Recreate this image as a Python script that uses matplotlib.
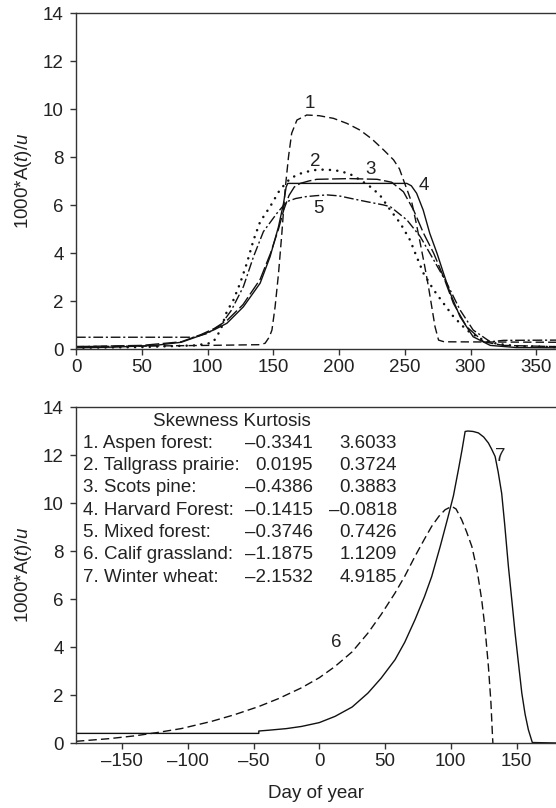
import matplotlib
matplotlib.use("Agg")
import matplotlib.pyplot as plt
from matplotlib.ticker import FuncFormatter

plt.rcParams['font.family'] = ['Liberation Sans', 'DejaVu Sans']
plt.rcParams['mathtext.fontset'] = 'custom'
plt.rcParams['mathtext.rm'] = 'Liberation Sans'
plt.rcParams['mathtext.it'] = 'Liberation Sans:italic'
plt.rcParams['axes.unicode_minus'] = False

# ---------------- data: top panel (day of year 0-365) ----------------
c1_day = [0, 50, 100, 140, 143.8, 147, 149, 151.4, 154, 156.5, 159, 161.6, 164, 168, 175.5, 185, 195.8, 206, 216, 225, 234, 241.5, 246, 249, 252, 255.5, 258.5, 261.8, 265, 268, 271, 273, 275.7, 280, 365]
c1_val = [0.1, 0.12, 0.15, 0.18, 0.24, 0.5, 0.79, 1.76, 3.15, 4.8, 6.63, 8.01, 8.99, 9.54, 9.75, 9.72, 9.61, 9.4, 9.12, 8.75, 8.29, 7.88, 7.5, 7.04, 6.6, 6.07, 5.3, 4.4, 3.5, 2.6, 1.6, 0.93, 0.37, 0.3, 0.28]

c2_day = [0, 50, 90, 100, 104.5, 110, 114.7, 119.7, 124.8, 129.9, 135, 140, 147.6, 155, 163, 170, 180, 190, 200, 208, 216, 224, 231, 239, 246.6, 254, 259, 264.3, 272, 279.5, 287, 297, 307, 320, 335, 365]
c2_val = [0.05, 0.08, 0.15, 0.22, 0.3, 0.8, 1.56, 2.04, 2.74, 3.57, 4.54, 5.3, 5.93, 6.63, 7.11, 7.3, 7.45, 7.48, 7.42, 7.3, 7.05, 6.75, 6.42, 5.79, 5.24, 4.54, 3.85, 3.15, 2.46, 1.9, 1.35, 0.79, 0.44, 0.22, 0.12, 0.08]

c3_day = [0, 50, 80, 95, 105, 115, 127, 140, 148, 154, 158, 162, 166, 170.5, 177, 183, 208, 229, 240, 249, 256.7, 264.3, 272, 279.5, 287, 297, 310, 325, 365]
c3_val = [0.1, 0.15, 0.3, 0.6, 0.85, 1.2, 1.85, 2.9, 4.0, 5.0, 5.8, 6.4, 6.75, 6.9, 7.0, 7.07, 7.1, 7.07, 6.95, 6.55, 5.79, 4.82, 3.99, 3.0, 1.9, 0.93, 0.3, 0.15, 0.1]

c4_day = [0, 30, 60, 80, 94, 105, 114.7, 127.3, 140, 147.6, 154, 157.8, 159.8, 161, 251.6, 255, 259, 264, 269, 274.5, 279.5, 284.6, 292, 302, 315, 335, 365]
c4_val = [0.05, 0.08, 0.15, 0.28, 0.55, 0.8, 1.07, 1.76, 2.74, 3.85, 5.1, 6.07, 6.75, 6.9, 6.9, 6.8, 6.49, 5.79, 4.82, 3.99, 3.15, 2.32, 1.35, 0.51, 0.15, 0.06, 0.05]

c5_day = [0, 90, 100, 110, 118, 127.3, 135, 142.5, 152.7, 160.3, 167, 175, 183, 191, 200, 208.5, 220, 234, 239, 251.6, 261.8, 272, 282, 292, 302, 315, 325, 365]
c5_val = [0.49, 0.49, 0.65, 1.0, 1.6, 2.6, 3.85, 4.89, 5.65, 6.14, 6.27, 6.35, 6.39, 6.42, 6.38, 6.28, 6.15, 6.0, 5.93, 5.38, 4.68, 3.71, 2.74, 1.63, 0.79, 0.3, 0.36, 0.37]

top_labels = ['1', '2', '3', '4', '5']
top_label_day = [178, 182, 223.7, 264.3, 184.4]
top_label_val = [10.24, 7.8, 7.46, 6.83, 5.86]

# ---------------- data: bottom panel ----------------
c6_day = [-185, -160, -140, -125, -105, -82, -65, -46, -31, -13.5, 0, 12, 25, 37, 47, 57.6, 65, 72.8, 80, 85.5, 91, 95.7, 100.7, 104, 108.3, 112, 116, 120, 123.5, 126, 128.6, 130.5, 131.7, 132]
c6_val = [0.07, 0.18, 0.3, 0.42, 0.6, 0.9, 1.17, 1.52, 1.85, 2.3, 2.72, 3.19, 3.8, 4.58, 5.35, 6.25, 6.95, 7.78, 8.5, 9.03, 9.45, 9.72, 9.86, 9.75, 9.3, 8.8, 8.19, 7.2, 5.97, 4.8, 3.19, 1.7, 0.3, 0.0]

c7_day = [-185, -46, -46, -39, -25, -13.5, 0, 12, 25, 37, 47, 57.6, 65, 72.8, 80, 85.5, 92, 98, 102, 105.8, 108.5, 110.9, 113, 117, 121, 125, 128.6, 131, 133.7, 136, 138.7, 141, 143.8, 146.5, 148.9, 151.5, 154, 156.5, 159, 162, 180]
c7_val = [0.4, 0.4, 0.5, 0.53, 0.6, 0.69, 0.85, 1.11, 1.5, 2.08, 2.7, 3.47, 4.2, 5.14, 6.1, 6.94, 8.2, 9.44, 10.3, 11.39, 12.2, 12.98, 13.0, 12.98, 12.92, 12.75, 12.5, 12.25, 11.94, 11.3, 10.4, 9.1, 7.36, 5.9, 4.58, 3.3, 2.08, 1.2, 0.55, 0.02, 0.0]

bot_labels = ['6', '7']
bot_label_day = [13, 137.5]
bot_label_val = [4.17, 11.94]

sites = ['1. Aspen forest:', '2. Tallgrass prairie:', '3. Scots pine:', '4. Harvard Forest:',
         '5. Mixed forest:', '6. Calif grassland:', '7. Winter wheat:']
skewness = ['\u20130.3341', '0.0195', '\u20130.4386', '\u20130.1415', '\u20130.3746', '\u20131.1875', '\u20132.1532']
kurtosis = ['3.6033', '0.3724', '0.3883', '\u20130.0818', '0.7426', '1.1209', '4.9185']

yticks = [0, 2, 4, 6, 8, 10, 12, 14]
top_xticks = [0, 50, 100, 150, 200, 250, 300, 350]
bot_xticks = [-150, -100, -50, 0, 50, 100, 150]

# ---------------- figure ----------------
W, H = 556, 808
fig = plt.figure(figsize=(W / 100, H / 100), dpi=100)
TXT = '#222222'
LC = '#111111'
FS = 13.5

def fx(px):
    return px / W

def fy(py):
    return 1 - py / H

ax1 = fig.add_axes([fx(76), fy(349), fx(556) - fx(76), fy(13) - fy(349)])
ax2 = fig.add_axes([fx(76), fy(743), fx(556) - fx(76), fy(407) - fy(743)])

fmt = FuncFormatter(lambda v, p: ('%g' % v).replace('-', '\u2013'))

for ax in (ax1, ax2):
    ax.spines['right'].set_visible(False)
    for s in ('left', 'bottom', 'top'):
        ax.spines[s].set_color('#333333')
        ax.spines[s].set_linewidth(1.0)
    ax.set_ylim(0, 14)
    ax.set_yticks(yticks)
    ax.tick_params(axis='both', direction='out', length=4, width=1.0, colors='#333333',
                   labelcolor=TXT, labelsize=FS)
    ax.tick_params(axis='y', pad=5)
    ax.tick_params(axis='x', pad=3)
    ax.xaxis.set_major_formatter(fmt)
    ax.set_ylabel('1000*A($\\it{t}$)/$\\it{u}$', fontsize=FS, color=TXT, va='center')
    ax.yaxis.set_label_coords(-0.11, 0.5)

# top panel
ax1.set_xlim(0, 365)
ax1.set_xticks(top_xticks)
ax1.plot(c1_day, c1_val, color=LC, lw=1.0, linestyle=(0, (6, 3)))
ax1.plot(c2_day, c2_val, color=LC, lw=1.8, linestyle=(0, (0.05, 2.9)), dash_capstyle='round')
ax1.plot(c3_day, c3_val, color=LC, lw=1.0, linestyle=(0, (10, 2.5)))
ax1.plot(c4_day, c4_val, color=LC, lw=1.0, linestyle='-')
ax1.plot(c5_day, c5_val, color=LC, lw=1.0, linestyle=(0, (7, 2, 1.5, 2)))
for t, d, v in zip(top_labels, top_label_day, top_label_val):
    ax1.text(d, v, t, fontsize=FS, color=TXT, ha='center', va='center')

# bottom panel
ax2.set_xlim(-185, 180)
ax2.set_xticks(bot_xticks)
ax2.plot(c6_day, c6_val, color=LC, lw=1.0, linestyle=(0, (6, 3)))
ax2.plot(c7_day, c7_val, color=LC, lw=1.0, linestyle='-')
for t, d, v in zip(bot_labels, bot_label_day, bot_label_val):
    ax2.text(d, v, t, fontsize=FS, color=TXT, ha='center', va='center')
ax2.set_xlabel('Day of year', fontsize=FS, color=TXT, va='center')
ax2.xaxis.set_label_coords(0.5, -0.149)

# table text
fig.text(fx(153), fy(421), 'Skewness Kurtosis', fontsize=FS, color=TXT, ha='left', va='center')
for i in range(len(sites)):
    yy = fy(443.3 + 22.3 * i)
    fig.text(fx(83), yy, sites[i], fontsize=FS, color=TXT, ha='left', va='center')
    fig.text(fx(313), yy, skewness[i], fontsize=FS, color=TXT, ha='right', va='center')
    fig.text(fx(397), yy, kurtosis[i], fontsize=FS, color=TXT, ha='right', va='center')

fig.savefig('out.png', dpi=100)
